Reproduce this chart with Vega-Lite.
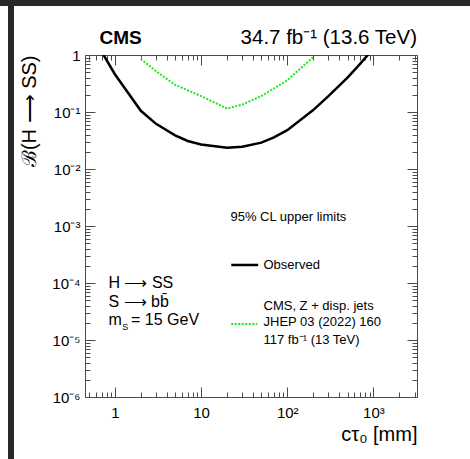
{
  "$schema": "https://vega.github.io/schema/vega-lite/v6.json",
  "padding": 0,
  "background": "white",
  "config": {
    "font": "Liberation Sans",
    "view": {"stroke": null},
    "concat": {"spacing": 0},
    "axis": {
      "grid": false,
      "domainColor": "#4a4a4a",
      "tickColor": "#4a4a4a",
      "tickWidth": 1,
      "labelColor": "#000000",
      "labelFont": "Liberation Sans",
      "labelFontSize": 15,
      "labelOverlap": false,
      "labelFlush": false,
      "titleColor": "#000000",
      "titleFont": "Liberation Sans",
      "titleFontWeight": "normal"
    }
  },
  "datasets": {
    "observed": [
      {"ctau": 0.7, "limit": 1.15},
      {"ctau": 1, "limit": 0.46},
      {"ctau": 2, "limit": 0.105},
      {"ctau": 3, "limit": 0.062},
      {"ctau": 5, "limit": 0.039},
      {"ctau": 7, "limit": 0.031},
      {"ctau": 10, "limit": 0.027},
      {"ctau": 20, "limit": 0.0235},
      {"ctau": 30, "limit": 0.0245},
      {"ctau": 50, "limit": 0.029},
      {"ctau": 70, "limit": 0.036},
      {"ctau": 100, "limit": 0.048},
      {"ctau": 200, "limit": 0.108},
      {"ctau": 300, "limit": 0.19},
      {"ctau": 500, "limit": 0.40},
      {"ctau": 700, "limit": 0.70},
      {"ctau": 1000, "limit": 1.3}
    ],
    "zjets": [
      {"ctau": 2, "limit": 0.85},
      {"ctau": 3, "limit": 0.52},
      {"ctau": 5, "limit": 0.30},
      {"ctau": 10, "limit": 0.19},
      {"ctau": 20, "limit": 0.115},
      {"ctau": 30, "limit": 0.135},
      {"ctau": 50, "limit": 0.19},
      {"ctau": 100, "limit": 0.36},
      {"ctau": 200, "limit": 0.92}
    ],
    "legendObserved": [{"x1": 22.4, "x2": 46, "y": 0.000207}],
    "legendZjets": [{"x1": 22.4, "x2": 44.8, "y": 0.0000191}],
    "cmsLabel": [{"x": 0.663, "y": 1.59, "label": "CMS"}],
    "lumiLabel": [{"x": 3200, "y": 1.59, "label": "34.7 fb⁻¹ (13.6 TeV)"}],
    "legendText": [
      {"x": 21.9, "y": 0.00146, "label": "95% CL upper limits"},
      {"x": 53, "y": 0.000207, "label": "Observed"},
      {"x": 53, "y": 0.00004, "label": "CMS, Z + disp. jets"},
      {"x": 53, "y": 0.0000209, "label": "JHEP 03 (2022) 160"},
      {"x": 53, "y": 0.00001, "label": "117 fb⁻¹ (13 TeV)"}
    ],
    "modelText": [
      {"x": 0.843, "y": 0.000099, "label": "H ⟶ SS"},
      {"x": 0.843, "y": 0.000047, "label": "S ⟶ bb̄"},
      {"x": 0.843, "y": 0.0000224, "label": "m"},
      {"x": 1.54, "y": 0.0000224, "label": "= 15 GeV"}
    ],
    "modelSub": [{"x": 1.215, "y": 0.0000172, "label": "S"}]
  },
  "bounds": "flush",
  "spacing": 0,
  "vconcat": [
    {
      "width": 470,
      "height": 6,
      "view": {"fill": "#282828", "stroke": null},
      "data": {"values": [{}]},
      "mark": {"type": "point", "opacity": 0}
    },
    {
      "bounds": "flush",
      "spacing": 0,
      "hconcat": [
        {
          "width": 8,
          "height": 453,
          "data": {"values": [{}]},
          "mark": {"type": "point", "opacity": 0}
        },
        {
          "width": 6,
          "height": 453,
          "view": {"fill": "#282828", "stroke": null},
          "data": {"values": [{}]},
          "mark": {"type": "point", "opacity": 0}
        },
        {
          "width": 71,
          "height": 453,
          "data": {"values": [{}]},
          "mark": {"type": "point", "opacity": 0}
        },
        {
          "bounds": "flush",
          "spacing": 0,
          "vconcat": [
            {
              "width": 332,
              "height": 49,
              "data": {"values": [{}]},
              "mark": {"type": "point", "opacity": 0}
            },
            {
              "width": 332,
              "height": 342,
              "resolve": {"axis": {"x": "independent", "y": "independent"}},
              "layer": [
                {
                  "data": {"name": "observed"},
                  "mark": {"type": "line", "color": "#000000", "strokeWidth": 2.5, "clip": true},
                  "encoding": {
                    "x": {
                      "field": "ctau", "type": "quantitative",
                      "scale": {"type": "log", "domain": [0.45, 3200], "nice": false},
                      "axis": {
                        "orient": "bottom",
                        "values": [1, 10, 100, 1000],
                        "tickSize": -10,
                        "labelPadding": 18,
                        "labelExpr": "datum.value < 5 ? '1' : datum.value < 50 ? '10' : datum.value < 500 ? '10²' : '10³'",
                        "title": "cτ₀ [mm]",
                        "titleAnchor": "end",
                        "titleFontSize": 20,
                        "titlePadding": 4
                      }
                    },
                    "y": {
                      "field": "limit", "type": "quantitative",
                      "scale": {"type": "log", "domain": [0.000001, 1], "nice": false},
                      "axis": {
                        "orient": "left",
                        "values": [0.000001, 0.00001, 0.0001, 0.001, 0.01, 0.1, 1],
                        "tickSize": -10,
                        "labelPadding": 15,
                        "labelExpr": "datum.value > 0.5 ? '1' : '10' + ['⁻¹','⁻²','⁻³','⁻⁴','⁻⁵','⁻⁶'][round(-log(datum.value)/LN10) - 1]",
                        "title": "ℬ(H ⟶ SS)",
                        "titleAnchor": "end",
                        "titleFontSize": 20,
                        "titlePadding": 12
                      }
                    }
                  }
                },
                {
                  "data": {"name": "zjets"},
                  "mark": {"type": "line", "color": "#1ee61e", "strokeWidth": 2, "strokeDash": [2, 1.5], "clip": true},
                  "encoding": {
                    "x": {
                      "field": "ctau", "type": "quantitative",
                      "scale": {"type": "log", "domain": [0.45, 3200], "nice": false},
                      "axis": {"orient": "top", "values": [1, 10, 100, 1000], "tickSize": -10, "labels": false, "title": null}
                    },
                    "y": {
                      "field": "limit", "type": "quantitative",
                      "scale": {"type": "log", "domain": [0.000001, 1], "nice": false},
                      "axis": {"orient": "right", "values": [0.000001, 0.00001, 0.0001, 0.001, 0.01, 0.1, 1], "tickSize": -10, "labels": false, "title": null}
                    }
                  }
                },
                {
                  "data": {"name": "legendObserved"},
                  "mark": {"type": "rule", "color": "#000000", "strokeWidth": 2.5},
                  "encoding": {
                    "x": {
                      "field": "x1", "type": "quantitative",
                      "scale": {"type": "log", "domain": [0.45, 3200], "nice": false},
                      "axis": {
                        "orient": "bottom", "domain": false, "labels": false, "title": null, "tickSize": -5,
                        "values": [0.5, 0.6, 0.7, 0.8, 0.9, 2, 3, 4, 5, 6, 7, 8, 9, 20, 30, 40, 50, 60, 70, 80, 90, 200, 300, 400, 500, 600, 700, 800, 900, 2000, 3000]
                      }
                    },
                    "x2": {"field": "x2"},
                    "y": {
                      "field": "y", "type": "quantitative",
                      "scale": {"type": "log", "domain": [0.000001, 1], "nice": false},
                      "axis": {
                        "orient": "left", "domain": false, "labels": false, "title": null, "tickSize": -5,
                        "values": [0.000002, 0.000003, 0.000004, 0.000005, 0.000006, 0.000007, 0.000008, 0.000009, 0.00002, 0.00003, 0.00004, 0.00005, 0.00006, 0.00007, 0.00008, 0.00009, 0.0002, 0.0003, 0.0004, 0.0005, 0.0006, 0.0007, 0.0008, 0.0009, 0.002, 0.003, 0.004, 0.005, 0.006, 0.007, 0.008, 0.009, 0.02, 0.03, 0.04, 0.05, 0.06, 0.07, 0.08, 0.09, 0.2, 0.3, 0.4, 0.5, 0.6, 0.7, 0.8, 0.9]
                      }
                    }
                  }
                },
                {
                  "data": {"name": "legendZjets"},
                  "mark": {"type": "rule", "color": "#1ee61e", "strokeWidth": 2, "strokeDash": [2, 1.5]},
                  "encoding": {
                    "x": {
                      "field": "x1", "type": "quantitative",
                      "scale": {"type": "log", "domain": [0.45, 3200], "nice": false},
                      "axis": {
                        "orient": "top", "domain": false, "labels": false, "title": null, "tickSize": -5,
                        "values": [0.5, 0.6, 0.7, 0.8, 0.9, 2, 3, 4, 5, 6, 7, 8, 9, 20, 30, 40, 50, 60, 70, 80, 90, 200, 300, 400, 500, 600, 700, 800, 900, 2000, 3000]
                      }
                    },
                    "x2": {"field": "x2"},
                    "y": {
                      "field": "y", "type": "quantitative",
                      "scale": {"type": "log", "domain": [0.000001, 1], "nice": false},
                      "axis": {
                        "orient": "right", "domain": false, "labels": false, "title": null, "tickSize": -5,
                        "values": [0.000002, 0.000003, 0.000004, 0.000005, 0.000006, 0.000007, 0.000008, 0.000009, 0.00002, 0.00003, 0.00004, 0.00005, 0.00006, 0.00007, 0.00008, 0.00009, 0.0002, 0.0003, 0.0004, 0.0005, 0.0006, 0.0007, 0.0008, 0.0009, 0.002, 0.003, 0.004, 0.005, 0.006, 0.007, 0.008, 0.009, 0.02, 0.03, 0.04, 0.05, 0.06, 0.07, 0.08, 0.09, 0.2, 0.3, 0.4, 0.5, 0.6, 0.7, 0.8, 0.9]
                      }
                    }
                  }
                },
                {
                  "data": {"name": "cmsLabel"},
                  "mark": {"type": "text", "align": "left", "baseline": "alphabetic", "fontSize": 19, "fontWeight": "bold", "color": "#000000"},
                  "encoding": {
                    "x": {"field": "x", "type": "quantitative", "scale": {"type": "log", "domain": [0.45, 3200], "nice": false}, "axis": null},
                    "y": {"field": "y", "type": "quantitative", "scale": {"type": "log", "domain": [0.000001, 1], "nice": false}, "axis": null},
                    "text": {"field": "label"}
                  }
                },
                {
                  "data": {"name": "lumiLabel"},
                  "mark": {"type": "text", "align": "right", "baseline": "alphabetic", "fontSize": 20.5, "color": "#000000"},
                  "encoding": {
                    "x": {"field": "x", "type": "quantitative", "scale": {"type": "log", "domain": [0.45, 3200], "nice": false}, "axis": null},
                    "y": {"field": "y", "type": "quantitative", "scale": {"type": "log", "domain": [0.000001, 1], "nice": false}, "axis": null},
                    "text": {"field": "label"}
                  }
                },
                {
                  "data": {"name": "legendText"},
                  "mark": {"type": "text", "align": "left", "baseline": "middle", "fontSize": 13, "color": "#000000"},
                  "encoding": {
                    "x": {"field": "x", "type": "quantitative", "scale": {"type": "log", "domain": [0.45, 3200], "nice": false}, "axis": null},
                    "y": {"field": "y", "type": "quantitative", "scale": {"type": "log", "domain": [0.000001, 1], "nice": false}, "axis": null},
                    "text": {"field": "label"}
                  }
                },
                {
                  "data": {"name": "modelText"},
                  "mark": {"type": "text", "align": "left", "baseline": "middle", "fontSize": 16, "color": "#000000"},
                  "encoding": {
                    "x": {"field": "x", "type": "quantitative", "scale": {"type": "log", "domain": [0.45, 3200], "nice": false}, "axis": null},
                    "y": {"field": "y", "type": "quantitative", "scale": {"type": "log", "domain": [0.000001, 1], "nice": false}, "axis": null},
                    "text": {"field": "label"}
                  }
                },
                {
                  "data": {"name": "modelSub"},
                  "mark": {"type": "text", "align": "left", "baseline": "middle", "fontSize": 9, "color": "#000000"},
                  "encoding": {
                    "x": {"field": "x", "type": "quantitative", "scale": {"type": "log", "domain": [0.45, 3200], "nice": false}, "axis": null},
                    "y": {"field": "y", "type": "quantitative", "scale": {"type": "log", "domain": [0.000001, 1], "nice": false}, "axis": null},
                    "text": {"field": "label"}
                  }
                }
              ]
            }
          ]
        }
      ]
    }
  ]
}
